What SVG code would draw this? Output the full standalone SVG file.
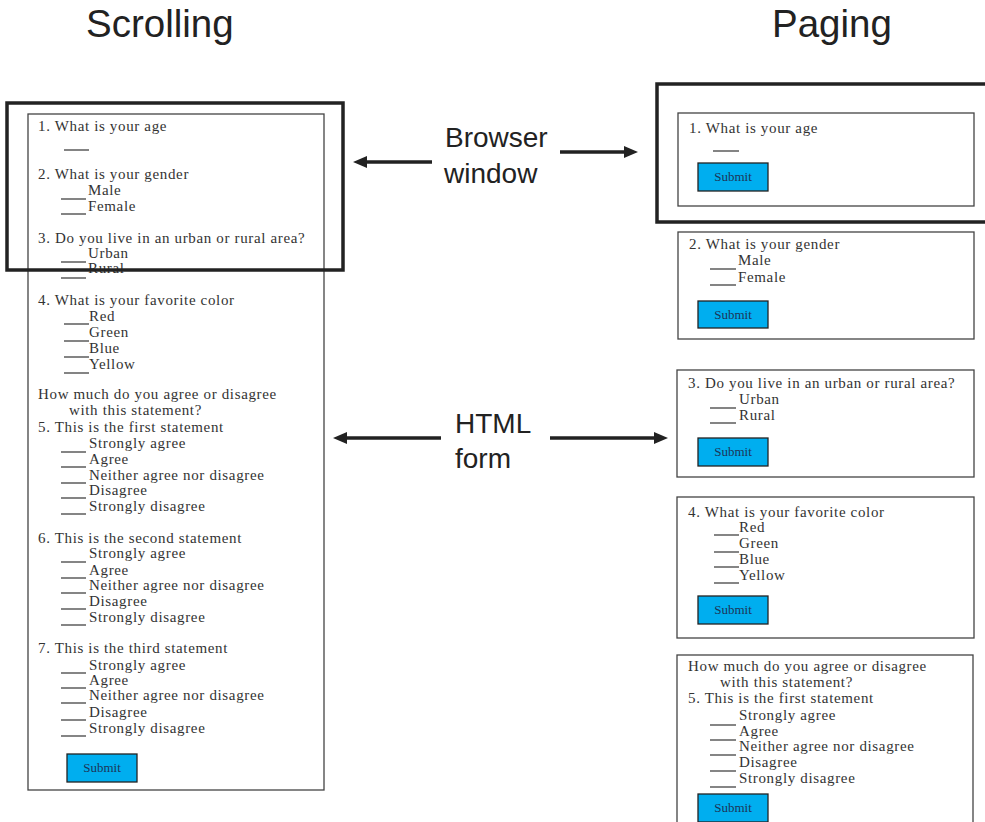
<svg xmlns="http://www.w3.org/2000/svg" width="985" height="822" viewBox="0 0 985 822">
  <style>
    .title { font-family: "Liberation Sans", Arial, sans-serif; font-size: 38.5px; fill: #222; }
    .label { font-family: "Liberation Sans", Arial, sans-serif; font-size: 28px; fill: #222; }
    .q { font-family: "Liberation Serif", "Times New Roman", serif; font-size: 15px; letter-spacing: 0.65px; fill: #333; }
    .form { fill: #fff; stroke: #444; stroke-width: 1.3; }
    .window { fill: none; stroke: #222; stroke-width: 3.5; }
    .blank { stroke: #333; stroke-width: 1.2; }
    .btn rect { fill: #00aeef; stroke: #222; stroke-width: 1.3; }
    .btn text { font-family: "Liberation Serif", "Times New Roman", serif; font-size: 13px; fill: #1d3557; text-anchor: middle; }
    .arrow { stroke: #222; stroke-width: 3.5; fill: none; marker-end: url(#head); }
  </style>
  <defs>
    <marker id="head" markerUnits="userSpaceOnUse" markerWidth="14" markerHeight="12" refX="4" refY="6" orient="auto">
      <path d="M0,0 L14,6 L0,12 z" fill="#222"/>
    </marker>
  </defs>

  <rect width="985" height="822" fill="#fff"/>

  <!-- column headings -->
  <text class="title" x="86" y="37">Scrolling</text>
  <text class="title" x="772" y="37">Paging</text>

  <!-- single scrolling form -->
  <g id="scroll-form">
    <rect class="form" x="28" y="114" width="296" height="676"/>
    <text class="q" x="38" y="131">1. What is your age</text>
    <line class="blank" x1="64" y1="150" x2="89" y2="150"/>

    <text class="q" x="38" y="179">2. What is your gender</text>
    <line class="blank" x1="61" y1="199" x2="86" y2="199"/><text class="q" x="88" y="195">Male</text>
    <line class="blank" x1="61" y1="214" x2="86" y2="214"/><text class="q" x="88" y="211">Female</text>

    <text class="q" x="38" y="243">3. Do you live in an urban or rural area?</text>
    <line class="blank" x1="61" y1="262" x2="86" y2="262"/><text class="q" x="88" y="258">Urban</text>
    <line class="blank" x1="61" y1="278" x2="86" y2="278"/><text class="q" x="88" y="273">Rural</text>

    <text class="q" x="38" y="305">4. What is your favorite color</text>
    <line class="blank" x1="64" y1="324" x2="89" y2="324"/><text class="q" x="89" y="321">Red</text>
    <line class="blank" x1="64" y1="341" x2="89" y2="341"/><text class="q" x="89" y="337">Green</text>
    <line class="blank" x1="64" y1="357" x2="89" y2="357"/><text class="q" x="89" y="353">Blue</text>
    <line class="blank" x1="64" y1="373" x2="89" y2="373"/><text class="q" x="89" y="369">Yellow</text>

    <text class="q" x="38" y="399">How much do you agree or disagree</text>
    <text class="q" x="69" y="415">with this statement?</text>
    <text class="q" x="38" y="432">5. This is the first statement</text>
    <line class="blank" x1="61" y1="452" x2="86" y2="452"/><text class="q" x="89" y="448">Strongly agree</text>
    <line class="blank" x1="61" y1="467" x2="86" y2="467"/><text class="q" x="89" y="464">Agree</text>
    <line class="blank" x1="61" y1="483" x2="86" y2="483"/><text class="q" x="89" y="480">Neither agree nor disagree</text>
    <line class="blank" x1="61" y1="498" x2="86" y2="498"/><text class="q" x="89" y="495">Disagree</text>
    <line class="blank" x1="61" y1="514" x2="86" y2="514"/><text class="q" x="89" y="511">Strongly disagree</text>

    <text class="q" x="38" y="543">6. This is the second statement</text>
    <line class="blank" x1="61" y1="562" x2="86" y2="562"/><text class="q" x="89" y="558">Strongly agree</text>
    <line class="blank" x1="61" y1="578" x2="86" y2="578"/><text class="q" x="89" y="575">Agree</text>
    <line class="blank" x1="61" y1="593" x2="86" y2="593"/><text class="q" x="89" y="590">Neither agree nor disagree</text>
    <line class="blank" x1="61" y1="609" x2="86" y2="609"/><text class="q" x="89" y="606">Disagree</text>
    <line class="blank" x1="61" y1="625" x2="86" y2="625"/><text class="q" x="89" y="622">Strongly disagree</text>

    <text class="q" x="38" y="653">7. This is the third statement</text>
    <line class="blank" x1="61" y1="673" x2="86" y2="673"/><text class="q" x="89" y="670">Strongly agree</text>
    <line class="blank" x1="61" y1="688" x2="86" y2="688"/><text class="q" x="89" y="685">Agree</text>
    <line class="blank" x1="61" y1="703" x2="86" y2="703"/><text class="q" x="89" y="700">Neither agree nor disagree</text>
    <line class="blank" x1="61" y1="720" x2="86" y2="720"/><text class="q" x="89" y="717">Disagree</text>
    <line class="blank" x1="61" y1="736" x2="86" y2="736"/><text class="q" x="89" y="733">Strongly disagree</text>

    <g class="btn"><rect x="67" y="754" width="70" height="28"/><text x="102" y="772">Submit</text></g>
  </g>

  <!-- browser viewport over the scrolling form -->
  <g id="scroll-window">
    <rect class="window" x="7" y="103" width="336" height="167"/>
  </g>

  <!-- paged forms, one question per page -->
  <g id="page-1">
    <rect class="form" x="678" y="113" width="296" height="93"/>
    <text class="q" x="689" y="133">1. What is your age</text>
    <line class="blank" x1="713" y1="151" x2="739" y2="151"/>
    <g class="btn"><rect x="698" y="163" width="70" height="28"/><text x="733" y="181">Submit</text></g>
  </g>

  <g id="page-window">
    <rect class="window" x="657" y="84" width="340" height="138"/>
  </g>

  <g id="page-2">
    <rect class="form" x="678" y="232" width="296" height="107"/>
    <text class="q" x="689" y="249">2. What is your gender</text>
    <line class="blank" x1="710" y1="269" x2="736" y2="269"/><text class="q" x="738" y="265">Male</text>
    <line class="blank" x1="710" y1="285" x2="736" y2="285"/><text class="q" x="738" y="282">Female</text>
    <g class="btn"><rect x="698" y="301" width="70" height="27"/><text x="733" y="319">Submit</text></g>
  </g>

  <g id="page-3">
    <rect class="form" x="677" y="370" width="297" height="107"/>
    <text class="q" x="688" y="388">3. Do you live in an urban or rural area?</text>
    <line class="blank" x1="710" y1="408" x2="736" y2="408"/><text class="q" x="739" y="404">Urban</text>
    <line class="blank" x1="710" y1="423" x2="736" y2="423"/><text class="q" x="739" y="420">Rural</text>
    <g class="btn"><rect x="698" y="438" width="70" height="28"/><text x="733" y="456">Submit</text></g>
  </g>

  <g id="page-4">
    <rect class="form" x="677" y="497" width="297" height="141"/>
    <text class="q" x="688" y="517">4. What is your favorite color</text>
    <line class="blank" x1="714" y1="535" x2="739" y2="535"/><text class="q" x="739" y="532">Red</text>
    <line class="blank" x1="714" y1="552" x2="739" y2="552"/><text class="q" x="739" y="548">Green</text>
    <line class="blank" x1="714" y1="567" x2="739" y2="567"/><text class="q" x="739" y="564">Blue</text>
    <line class="blank" x1="714" y1="583" x2="739" y2="583"/><text class="q" x="739" y="580">Yellow</text>
    <g class="btn"><rect x="698" y="596" width="70" height="28"/><text x="733" y="614">Submit</text></g>
  </g>

  <g id="page-5">
    <rect class="form" x="677" y="655" width="296" height="180"/>
    <text class="q" x="688" y="671">How much do you agree or disagree</text>
    <text class="q" x="720" y="687">with this statement?</text>
    <text class="q" x="688" y="703">5. This is the first statement</text>
    <line class="blank" x1="710" y1="725" x2="736" y2="725"/><text class="q" x="739" y="720">Strongly agree</text>
    <line class="blank" x1="710" y1="740" x2="736" y2="740"/><text class="q" x="739" y="736">Agree</text>
    <line class="blank" x1="710" y1="755" x2="736" y2="755"/><text class="q" x="739" y="751">Neither agree nor disagree</text>
    <line class="blank" x1="710" y1="771" x2="736" y2="771"/><text class="q" x="739" y="767">Disagree</text>
    <line class="blank" x1="710" y1="787" x2="736" y2="787"/><text class="q" x="739" y="783">Strongly disagree</text>
    <g class="btn"><rect x="698" y="794" width="70" height="28"/><text x="733" y="812">Submit</text></g>
  </g>

  <!-- callout labels -->
  <g id="label-browser">
    <text class="label" x="445" y="147">Browser</text>
    <text class="label" x="444" y="183">window</text>
  </g>
  <g id="label-form">
    <text class="label" x="455" y="433">HTML</text>
    <text class="label" x="455" y="468">form</text>
  </g>

  <!-- connectors -->
  <g id="connectors">
    <line class="arrow" x1="432" y1="162" x2="363" y2="162"/>
    <line class="arrow" x1="560" y1="152" x2="628" y2="152"/>
    <line class="arrow" x1="441" y1="438" x2="343" y2="438"/>
    <line class="arrow" x1="550" y1="438" x2="658" y2="438"/>
  </g>
</svg>
